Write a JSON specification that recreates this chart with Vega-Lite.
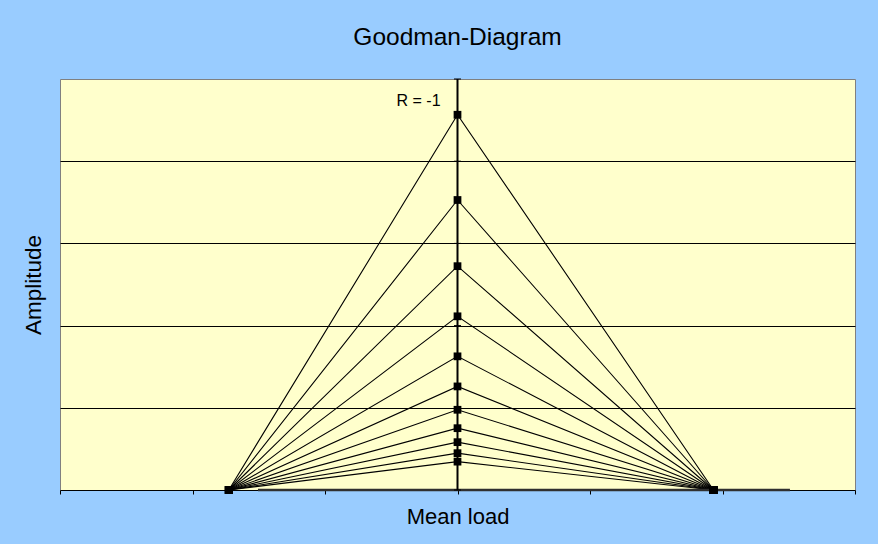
{
  "$schema": "https://vega.github.io/schema/vega-lite/v6.json",
  "autosize": "none",
  "width": 795,
  "height": 411,
  "padding": {"left": 60, "top": 79, "right": 23, "bottom": 54},
  "background": "#99CCFF",
  "title": {
    "text": "Goodman-Diagram",
    "font": "Liberation Sans",
    "fontSize": 24.5,
    "fontWeight": "normal",
    "color": "#000000",
    "anchor": "middle",
    "baseline": "alphabetic",
    "offset": 9,
    "frame": "group"
  },
  "config": {
    "view": {"fill": "#FFFFCC", "stroke": "#808080", "strokeWidth": 1},
    "font": "Liberation Sans"
  },
  "datasets": {
    "series": [
      {"s": 1, "o": 0, "x": -1.726, "y": 0}, {"s": 1, "o": 1, "x": 0, "y": 4.565}, {"s": 1, "o": 2, "x": 1.932, "y": 0},
      {"s": 2, "o": 0, "x": -1.726, "y": 0}, {"s": 2, "o": 1, "x": 0, "y": 3.528}, {"s": 2, "o": 2, "x": 1.932, "y": 0},
      {"s": 3, "o": 0, "x": -1.726, "y": 0}, {"s": 3, "o": 1, "x": 0, "y": 2.723}, {"s": 3, "o": 2, "x": 1.932, "y": 0},
      {"s": 4, "o": 0, "x": -1.726, "y": 0}, {"s": 4, "o": 1, "x": 0, "y": 2.113}, {"s": 4, "o": 2, "x": 1.932, "y": 0},
      {"s": 5, "o": 0, "x": -1.726, "y": 0}, {"s": 5, "o": 1, "x": 0, "y": 1.626}, {"s": 5, "o": 2, "x": 1.932, "y": 0},
      {"s": 6, "o": 0, "x": -1.726, "y": 0}, {"s": 6, "o": 1, "x": 0, "y": 1.26}, {"s": 6, "o": 2, "x": 1.932, "y": 0},
      {"s": 7, "o": 0, "x": -1.726, "y": 0}, {"s": 7, "o": 1, "x": 0, "y": 0.976}, {"s": 7, "o": 2, "x": 1.932, "y": 0},
      {"s": 8, "o": 0, "x": -1.726, "y": 0}, {"s": 8, "o": 1, "x": 0, "y": 0.752}, {"s": 8, "o": 2, "x": 1.932, "y": 0},
      {"s": 9, "o": 0, "x": -1.726, "y": 0}, {"s": 9, "o": 1, "x": 0, "y": 0.582}, {"s": 9, "o": 2, "x": 1.932, "y": 0},
      {"s": 10, "o": 0, "x": -1.726, "y": 0}, {"s": 10, "o": 1, "x": 0, "y": 0.448}, {"s": 10, "o": 2, "x": 1.932, "y": 0},
      {"s": 11, "o": 0, "x": -1.726, "y": 0}, {"s": 11, "o": 1, "x": 0, "y": 0.345}, {"s": 11, "o": 2, "x": 1.932, "y": 0}
    ],
    "base": [{"x": -1.506, "y": 0}, {"x": 2.509, "y": 0}],
    "vaxis": [{"x": 0, "y": 0, "y2": 5}],
    "vticks": [{"x": 0, "y": 0}, {"x": 0, "y": 1}, {"x": 0, "y": 2}, {"x": 0, "y": 3}, {"x": 0, "y": 4}, {"x": 0, "y": 5}],
    "label": [{"x": -0.294, "y": 4.67, "t": "R = -1"}]
  },
  "layer": [
    {
      "data": {"name": "series"},
      "mark": {"type": "line", "color": "#000000", "strokeWidth": 1.1},
      "encoding": {
        "x": {
          "field": "x", "type": "quantitative",
          "scale": {"domain": [-3, 3], "nice": false, "zero": false},
          "axis": {
            "title": "Mean load", "titleFont": "Liberation Sans", "titleFontSize": 22, "titleFontWeight": "normal",
            "titleColor": "#000000", "titleBaseline": "alphabetic", "titleY": 33,
            "labels": false, "grid": false, "ticks": true, "tickSize": 4, "tickColor": "#000000",
            "domain": true, "domainColor": "#000000", "domainWidth": 1,
            "values": [-3, -2, -1, 0, 1, 2, 3]
          }
        },
        "y": {
          "field": "y", "type": "quantitative",
          "scale": {"domain": [0, 5], "nice": false, "zero": true},
          "axis": {
            "title": "Amplitude", "titleFont": "Liberation Sans", "titleFontSize": 22.5, "titleFontWeight": "normal",
            "titleColor": "#000000", "titleBaseline": "alphabetic", "titleAngle": -90, "titleX": -20,
            "labels": false, "ticks": false, "domain": false,
            "grid": true, "gridColor": "#000000", "gridWidth": 1, "gridOpacity": 1,
            "values": [1, 2, 3, 4]
          }
        },
        "detail": {"field": "s", "type": "nominal"},
        "order": {"field": "o", "type": "quantitative"}
      }
    },
    {
      "data": {"name": "base"},
      "mark": {"type": "line", "color": "#303030", "strokeWidth": 2.5},
      "encoding": {
        "x": {"field": "x", "type": "quantitative"},
        "y": {"field": "y", "type": "quantitative"}
      }
    },
    {
      "data": {"name": "vaxis"},
      "mark": {"type": "rule", "color": "#000000", "strokeWidth": 2},
      "encoding": {
        "x": {"field": "x", "type": "quantitative"},
        "y": {"field": "y", "type": "quantitative"},
        "y2": {"field": "y2"}
      }
    },
    {
      "data": {"name": "vticks"},
      "mark": {"type": "tick", "orient": "horizontal", "color": "#000000", "size": 7, "thickness": 1, "opacity": 1},
      "encoding": {
        "x": {"field": "x", "type": "quantitative"},
        "y": {"field": "y", "type": "quantitative"}
      }
    },
    {
      "data": {"name": "series"},
      "mark": {"type": "point", "shape": "square", "filled": true, "color": "#000000", "size": 60, "opacity": 1},
      "encoding": {
        "x": {"field": "x", "type": "quantitative"},
        "y": {"field": "y", "type": "quantitative"}
      }
    },
    {
      "data": {"name": "label"},
      "mark": {"type": "text", "font": "Liberation Sans", "fontSize": 16, "color": "#000000", "align": "center", "baseline": "alphabetic"},
      "encoding": {
        "x": {"field": "x", "type": "quantitative"},
        "y": {"field": "y", "type": "quantitative"},
        "text": {"field": "t"}
      }
    }
  ]
}
